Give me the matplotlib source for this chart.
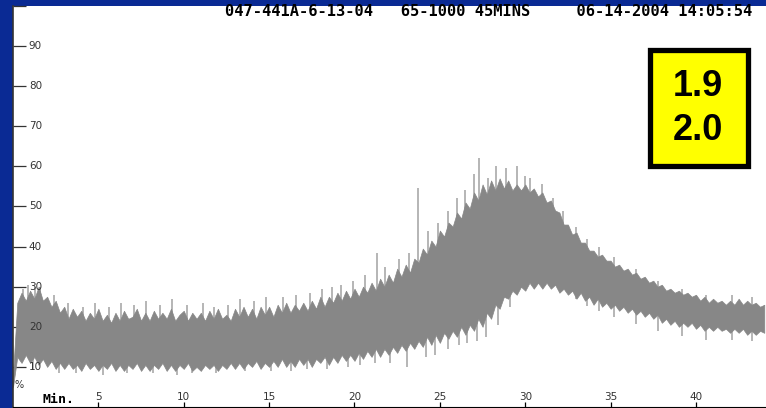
import numpy as np
import matplotlib
matplotlib.use("Agg")
import matplotlib.pyplot as plt
from matplotlib.patches import Rectangle

t = np.arange(0, 44.01, 0.25)
upper = [8, 26, 28.5, 26.5, 29, 27, 30, 26.5, 27.5, 25, 26.5, 23.5,
         25, 22, 24.5, 22.5, 24, 21.5, 23.5, 22, 24.5, 21.5, 23, 21,
         23.5, 21.5, 24, 22, 22.5, 24.5, 21.5, 23.5, 21.5, 24, 22, 23.5,
         22, 24.5, 21.5, 23, 24, 21.5, 23.5, 22, 23.5, 21.5, 24, 22,
         24.5, 22, 23, 21.5, 24.5, 22.5, 25, 22.5, 24.5, 22, 25, 23,
         25, 22.5, 25.5, 23.5, 26, 23.5, 25.5, 24, 26, 24, 26.5, 24.5,
         27.5, 25, 27.5, 26, 28.5, 26.5, 29, 27, 29.5, 27.5, 30, 28.5,
         31, 29, 32, 30, 33, 31, 34.5, 32.5, 35.5, 33.5, 37, 36,
         39.5, 38, 41.5, 40, 44, 42.5, 46, 45, 48.5, 47, 51, 49.5,
         53.5, 51.5, 55.5, 53, 56.5, 54, 57, 54.5, 56.5, 54, 55.5, 54,
         55.5, 53.5, 54.5, 52.5, 53.5, 51, 51.5, 49, 48.5, 45.5, 45.5, 43,
         43.5, 41, 41, 39, 39, 37.5, 38, 36.5, 36.5, 35, 35.5, 34,
         34.5, 33, 33.5, 32, 32.5, 31, 31.5, 30, 30.5, 29, 29.5, 28.5,
         29, 28, 28.5, 27.5, 28, 26.5, 27.5, 26, 27, 26, 26.5, 25.5,
         26.5, 25.5, 27, 25.5, 26.5, 25.5, 26, 25, 25.5]
lower = [5, 12.5, 11, 13, 11, 12.5, 10.5, 12, 10, 11.5, 9.5, 11,
         9.5, 11, 9.5, 10.5, 9, 11, 9.5, 10.5, 9, 10.5, 9.5, 11,
         9, 10.5, 9, 10.5, 9.5, 11, 9, 10.5, 9, 10.5, 9.5, 11,
         9, 10.5, 9, 10.5, 9.5, 11, 9, 10, 9, 10.5, 9.5, 10.5,
         9, 10.5, 9.5, 11, 9.5, 11, 9.5, 11, 10, 11.5, 9.5, 11,
         10, 11.5, 10, 12, 10, 11.5, 10, 12, 10.5, 12, 10, 12,
         11, 12.5, 10.5, 12.5, 11, 13, 11.5, 13, 11.5, 13.5, 12, 14,
         12.5, 14.5, 12.5, 14.5, 13, 15, 13.5, 15.5, 14, 16, 14.5, 16.5,
         15, 17.5, 15.5, 18, 16, 18.5, 17, 19, 17.5, 20, 18, 20.5,
         19, 22, 20, 23.5, 22, 25.5, 24.5, 27.5, 27, 29, 28, 30,
         29, 31, 29.5, 31, 29.5, 31, 29.5, 30.5, 28.5, 29.5, 28, 29,
         27, 28.5, 26.5, 27.5, 25.5, 27, 25, 26, 24.5, 25.5, 24, 25,
         23.5, 24.5, 23, 24, 22.5, 23.5, 22, 23, 21, 22, 20.5, 21.5,
         20, 21, 20, 21, 19.5, 20.5, 19, 20, 19, 20, 19, 19.5,
         18.5, 19.5, 18.5, 19.5, 18, 19, 18, 19, 18.5]

# single spikes sticking out of the envelope
spike_up_t = [0.6, 0.9, 1.3, 1.6, 2.4, 3.2, 4.1, 4.8, 5.6, 6.3, 7.1, 7.8,
              8.6, 9.3, 10.2, 11.1, 11.8, 12.6, 13.3, 14.1, 14.8, 15.8,
              16.6, 17.4, 18.1, 18.7, 19.2, 19.9, 20.6, 21.3, 21.8, 22.6,
              23.2, 23.7, 24.3, 24.9, 25.5, 26.0, 26.5, 27.0, 27.3, 27.8,
              28.3, 28.9, 29.5, 30.0, 30.3, 31.0, 31.6, 32.2, 33.0, 33.6,
              34.3, 35.2, 36.5, 37.8, 39.2, 40.6, 42.1, 43.3]
spike_up_v = [29.5, 30.5, 30, 30, 28, 26, 25, 26, 25, 26, 25.5, 26.5,
              25.5, 27, 25.5, 26, 25, 25.5, 27, 26.5, 27.5, 27.5,
              28, 28.5, 29.5, 30, 30.5, 31.5, 33, 38.5, 35, 37,
              38.5, 54.5, 44, 46, 49, 52, 54, 58, 62, 57,
              60, 59.5, 60, 57.5, 57, 55.5, 52, 49, 45, 42,
              40, 37.5, 34.5, 31.5, 29.5, 28, 28, 27.5]
spike_dn_t = [1.2, 2.7, 3.7, 5.3, 6.7, 8.2, 9.6, 10.5, 11.9, 13.6, 15.1,
              16.3, 17.2, 18.4, 19.6, 20.3, 21.2, 22.1, 23.1, 24.2, 24.7,
              25.5, 26.1, 26.6, 27.2, 27.7, 28.4, 29.1]
spike_dn_v = [9.5, 8.5, 8.5, 8, 8.5, 8.5, 8, 8.5, 8.5, 9, 9,
              9, 9.5, 9.5, 10, 10.5, 11, 11, 10, 12.5, 13,
              14.5, 15.5, 16, 16.5, 17.5, 20.5, 25]

x_ticks = [5, 10, 15, 20, 25, 30, 35, 40]
y_ticks = [10, 20, 30, 40, 50, 60, 70, 80, 90]
title = "047-441A-6-13-04   65-1000 45MINS     06-14-2004 14:05:54"
box_lines = ["1.9", "2.0"]

W, H = 766, 408
fig = plt.figure(figsize=(W / 100, H / 100), dpi=100, facecolor="#0a2a94")
ax = fig.add_axes([13 / W, 0, 753 / W, 402 / H], facecolor="white")
ax.set_xlim(0, 44.1)
ax.set_ylim(-0.25, 100)

gray = "#878787"
# spikes go behind the body so only the part sticking out shows
up_v = np.array(spike_up_v)
ax.vlines(spike_up_t, up_v * 0.6, up_v, color="#a2a2a2", lw=1.1, zorder=1)
dn_v = np.array(spike_dn_v)
ax.vlines(spike_dn_t, dn_v, dn_v + 6, color="#a2a2a2", lw=1.1, zorder=1)
ax.fill_between(t, lower, upper, color=gray, lw=0.5, edgecolor=gray,
                zorder=2)

for s in ["top", "right"]:
    ax.spines[s].set_visible(False)
ax.spines["left"].set_color("#333333")
ax.spines["left"].set_linewidth(1.2)
ax.spines["bottom"].set_position(("data", 0))
ax.spines["bottom"].set_color("black")

ax.set_yticks(y_ticks + [100])
ax.set_xticks(x_ticks)
ax.tick_params(axis="y", direction="in", length=9.5, width=0.9,
               color="#333333", labelleft=False)
ax.tick_params(axis="x", direction="in", length=3.6, width=0.9,
               color="black", labelbottom=False)

mono = "DejaVu Sans Mono"
for v in y_ticks:
    ax.text(0.021, v, str(v), transform=ax.get_yaxis_transform(),
            ha="left", va="center", fontsize=7.5, color="#333333")
for v in x_ticks:
    ax.text(v, 0.028, str(v), transform=ax.get_xaxis_transform(),
            ha="center", va="center", fontsize=7.5, color="#333333")

ax.text(0.002, 5.5, "%", fontsize=7, ha="left", va="center",
        transform=ax.get_yaxis_transform(), color="#333333")
ax.text(1.7, 0.006, "Min.", fontsize=9.5, fontweight="bold", family=mono,
        ha="left", va="bottom", transform=ax.get_xaxis_transform())

fig.text(225 / W, 1 - 12 / H, title, fontsize=11.1, fontweight="bold",
         family=mono, ha="left", va="center")

# yellow box
fig.add_artist(Rectangle((650 / W, 1 - 166 / H), 98 / W, 116 / H,
                         transform=fig.transFigure, facecolor="#ffff00",
                         edgecolor="black", lw=3.8))
for i, s in enumerate(box_lines):
    fig.text(698 / W, 1 - (86 + 45 * i) / H, s, fontsize=26,
             fontweight="bold", family="Liberation Sans",
             ha="center", va="center")

fig.savefig("out.png", dpi=100, facecolor=fig.get_facecolor())
